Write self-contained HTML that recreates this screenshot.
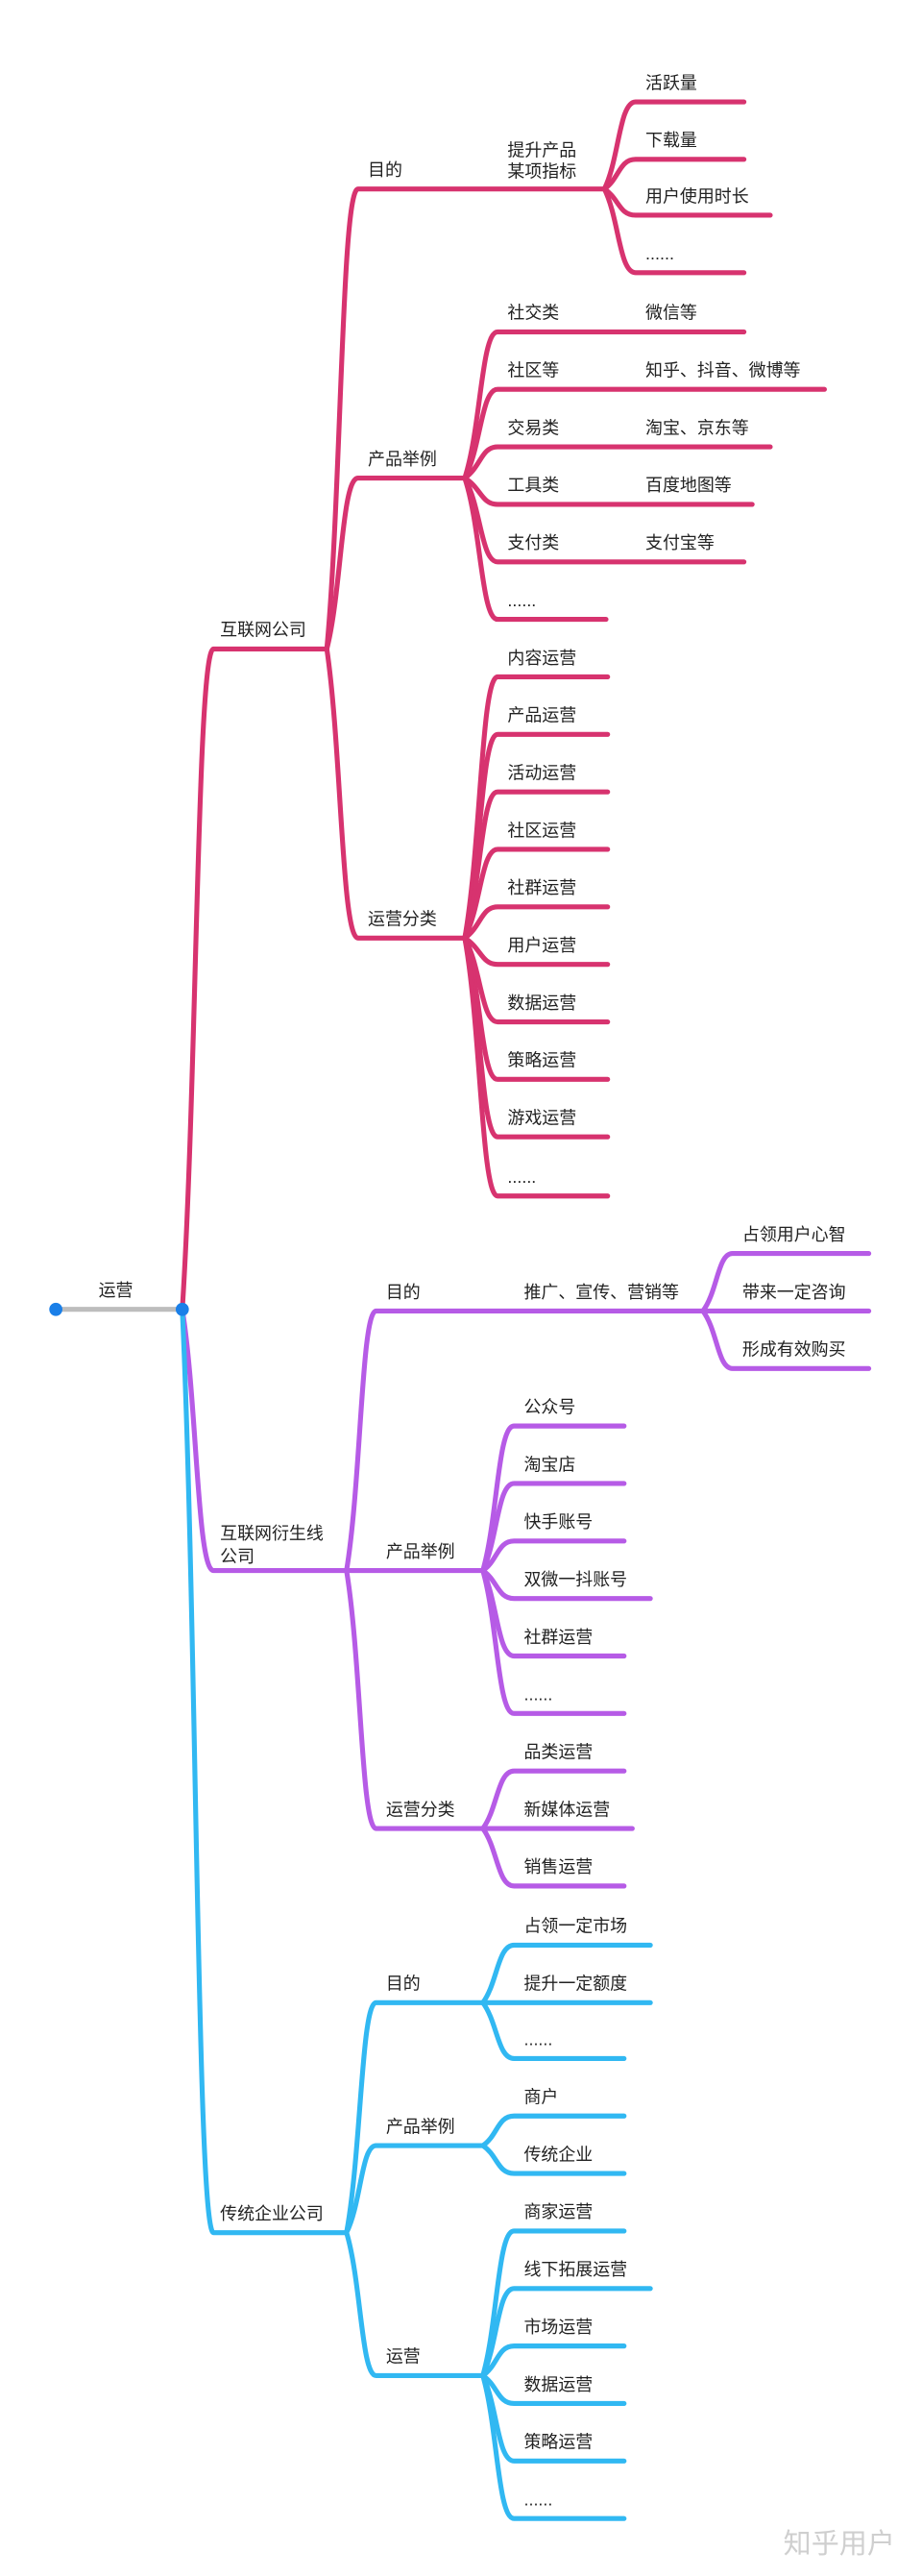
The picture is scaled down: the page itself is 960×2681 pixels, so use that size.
<!DOCTYPE html>
<html><head><meta charset="utf-8"><style>
html,body{margin:0;padding:0;background:#fff;}
svg{display:block;}
text{font-family:"Liberation Sans","Noto Sans CJK SC",sans-serif;font-size:10.5px;fill:#222;}
.p{stroke:#D7336F;fill:none;stroke-width:3;stroke-linecap:round;}
.v{stroke:#B65BE6;fill:none;stroke-width:3;stroke-linecap:round;}
.b{stroke:#31B8F2;fill:none;stroke-width:3;stroke-linecap:round;}
</style></head><body>
<svg width="960" height="2681" viewBox="0 0 561.4 1568" preserveAspectRatio="none">
<!-- root -->
<line x1="34" y1="797" x2="111" y2="797" stroke="#bdbdbd" stroke-width="3"/>
<text x="60" y="789">运营</text>

<!-- PINK -->
<g class="p">
<path d="M111,797 C120,656 120,395 130,395 H199"/>
<path d="M199,395 C208,297 208,115 218,115 H368"/>
<path d="M199,395 C208,360 208,291 218,291 H283"/>
<path d="M199,395 C208,456 208,571 218,571 H283"/>
<path d="M368,115 C377,97 377,62 387,62 H453"/>
<path d="M368,115 C377,109 377,97 387,97 H453"/>
<path d="M368,115 C377,121 377,131 387,131 H469"/>
<path d="M368,115 C377,133 377,166 387,166 H453"/>
<path d="M283,291 C293,260 293,202 303,202 H453"/>
<path d="M283,291 C293,272 293,237 303,237 H502"/>
<path d="M283,291 C293,284 293,272 303,272 H469"/>
<path d="M283,291 C293,297 293,307 303,307 H458"/>
<path d="M283,291 C293,309 293,342 303,342 H453"/>
<path d="M283,291 C293,321 293,377 303,377 H369"/>
<path d="M283,571 C293,514 293,412 303,412 H370"/>
<path d="M283,571 C293,526 293,447 303,447 H370"/>
<path d="M283,571 C293,539 293,482 303,482 H370"/>
<path d="M283,571 C293,551 293,517 303,517 H370"/>
<path d="M283,571 C293,564 293,552 303,552 H370"/>
<path d="M283,571 C293,577 293,587 303,587 H370"/>
<path d="M283,571 C293,589 293,622 303,622 H370"/>
<path d="M283,571 C293,601 293,657 303,657 H370"/>
<path d="M283,571 C293,614 293,692 303,692 H370"/>
<path d="M283,571 C293,626 293,728 303,728 H370"/>
</g>
<text x="134" y="387">互联网公司</text>
<text x="224" y="107">目的</text>
<text x="224" y="283">产品举例</text>
<text x="224" y="563">运营分类</text>
<text x="309" y="95">提升产品</text>
<text x="309" y="108">某项指标</text>
<text x="393" y="54">活跃量</text>
<text x="393" y="89">下载量</text>
<text x="393" y="123">用户使用时长</text>
<text x="393" y="158">......</text>
<text x="309" y="194">社交类</text><text x="393" y="194">微信等</text>
<text x="309" y="229">社区等</text><text x="393" y="229">知乎、抖音、微博等</text>
<text x="309" y="264">交易类</text><text x="393" y="264">淘宝、京东等</text>
<text x="309" y="299">工具类</text><text x="393" y="299">百度地图等</text>
<text x="309" y="334">支付类</text><text x="393" y="334">支付宝等</text>
<text x="309" y="369">......</text>
<text x="309" y="404">内容运营</text>
<text x="309" y="439">产品运营</text>
<text x="309" y="474">活动运营</text>
<text x="309" y="509">社区运营</text>
<text x="309" y="544">社群运营</text>
<text x="309" y="579">用户运营</text>
<text x="309" y="614">数据运营</text>
<text x="309" y="649">策略运营</text>
<text x="309" y="684">游戏运营</text>
<text x="309" y="720">......</text>

<!-- PURPLE -->
<g class="v">
<path d="M111,797 C120,853 120,956 130,956 H211"/>
<path d="M211,956 C220,901 220,798 229,798 H428"/>
<path d="M211,956 H294"/>
<path d="M211,956 C220,1011 220,1113 229,1113 H294"/>
<path d="M428,798 C437,786 437,763 446,763 H529"/>
<path d="M428,798 H529"/>
<path d="M428,798 C437,810 437,833 446,833 H529"/>
<path d="M294,956 C303,925 303,868 313,868 H380"/>
<path d="M294,956 C303,937 303,903 313,903 H380"/>
<path d="M294,956 C303,950 303,938 313,938 H380"/>
<path d="M294,956 C303,962 303,973 313,973 H396"/>
<path d="M294,956 C303,975 303,1008 313,1008 H380"/>
<path d="M294,956 C303,987 303,1043 313,1043 H380"/>
<path d="M294,1113 C303,1101 303,1078 313,1078 H380"/>
<path d="M294,1113 H385"/>
<path d="M294,1113 C303,1125 303,1148 313,1148 H380"/>
</g>
<text x="134" y="937">互联网衍生线</text>
<text x="134" y="951">公司</text>
<text x="235" y="790">目的</text>
<text x="319" y="790">推广、宣传、营销等</text>
<text x="235" y="948">产品举例</text>
<text x="235" y="1105">运营分类</text>
<text x="452" y="755">占领用户心智</text>
<text x="452" y="790">带来一定咨询</text>
<text x="452" y="825">形成有效购买</text>
<text x="319" y="860">公众号</text>
<text x="319" y="895">淘宝店</text>
<text x="319" y="930">快手账号</text>
<text x="319" y="965">双微一抖账号</text>
<text x="319" y="1000">社群运营</text>
<text x="319" y="1035">......</text>
<text x="319" y="1070">品类运营</text>
<text x="319" y="1105">新媒体运营</text>
<text x="319" y="1140">销售运营</text>

<!-- BLUE -->
<g class="b">
<path d="M111,797 C120,994 120,1359 130,1359 H211"/>
<path d="M211,1359 C220,1310 220,1219 229,1219 H294"/>
<path d="M211,1359 C220,1341 220,1306 229,1306 H294"/>
<path d="M211,1359 C220,1389 220,1446 229,1446 H294"/>
<path d="M294,1219 C303,1207 303,1184 313,1184 H396"/>
<path d="M294,1219 H396"/>
<path d="M294,1219 C303,1231 303,1253 313,1253 H380"/>
<path d="M294,1306 C303,1300 303,1288 313,1288 H380"/>
<path d="M294,1306 C303,1312 303,1323 313,1323 H380"/>
<path d="M294,1446 C303,1415 303,1358 313,1358 H380"/>
<path d="M294,1446 C303,1427 303,1393 313,1393 H396"/>
<path d="M294,1446 C303,1440 303,1428 313,1428 H380"/>
<path d="M294,1446 C303,1452 303,1463 313,1463 H380"/>
<path d="M294,1446 C303,1465 303,1498 313,1498 H380"/>
<path d="M294,1446 C303,1477 303,1533 313,1533 H380"/>
</g>
<text x="134" y="1351">传统企业公司</text>
<text x="235" y="1211">目的</text>
<text x="235" y="1298">产品举例</text>
<text x="235" y="1438">运营</text>
<text x="319" y="1176">占领一定市场</text>
<text x="319" y="1211">提升一定额度</text>
<text x="319" y="1245">......</text>
<text x="319" y="1280">商户</text>
<text x="319" y="1315">传统企业</text>
<text x="319" y="1350">商家运营</text>
<text x="319" y="1385">线下拓展运营</text>
<text x="319" y="1420">市场运营</text>
<text x="319" y="1455">数据运营</text>
<text x="319" y="1490">策略运营</text>
<text x="319" y="1525">......</text>

<circle cx="34" cy="797" r="4" fill="#1A7FE8"/>
<circle cx="111" cy="797" r="4" fill="#1A7FE8"/>

<text x="477" y="1554" style="font-size:17px;fill:#cfcfcf;">知乎用户</text>
</svg>
</body></html>
